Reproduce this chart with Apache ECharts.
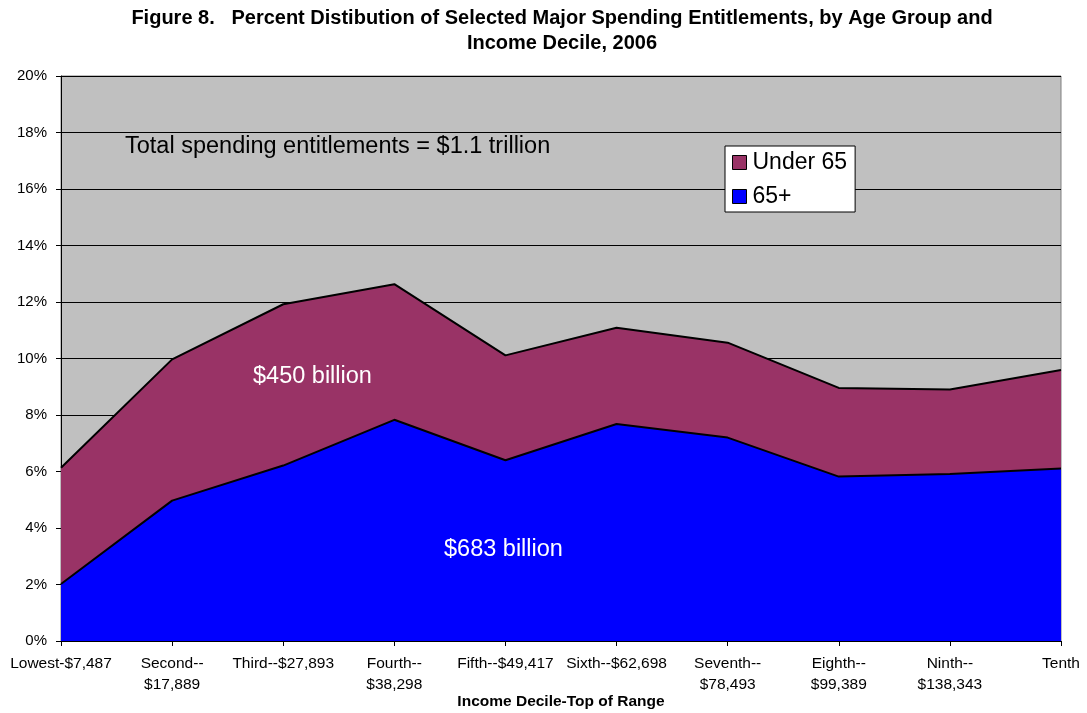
<!DOCTYPE html>
<html>
<head>
<meta charset="utf-8">
<script src="https://cdn.jsdelivr.net/npm/echarts@6/dist/echarts.min.js"></script>
<style>
  html, body { margin: 0; padding: 0; background: #fff; }
  #chart { width: 1087px; height: 713px; }
</style>
</head>
<body>
<div id="chart"></div>
<script>
// Income deciles (top of range)
const categories = [
  'Lowest-$7,487', 'Second--\n$17,889', 'Third--$27,893', 'Fourth--\n$38,298',
  'Fifth--$49,417', 'Sixth--$62,698', 'Seventh--\n$78,493', 'Eighth--\n$99,389',
  'Ninth--\n$138,343', 'Tenth'
];
// Percent of total entitlement spending, by age group
const age65plus = [2.02, 4.97, 6.21, 7.83, 6.40, 7.68, 7.20, 5.82, 5.91, 6.11];
const under65   = [4.11, 5.00, 5.71, 4.80, 3.71, 3.41, 3.36, 3.14, 2.99, 3.48];
const yTicks = [0, 2, 4, 6, 8, 10, 12, 14, 16, 18, 20];

const FONT = 'Liberation Sans, Arial, sans-serif';
const chart = echarts.init(document.getElementById('chart'));

chart.setOption({
  animation: false,
  title: {
    text: 'Figure 8.   Percent Distibution of Selected Major Spending Entitlements, by Age Group and\nIncome Decile, 2006',
    left: 557, top: 1, textAlign: 'center',
    textStyle: { fontFamily: FONT, fontSize: 20, fontWeight: 'bold', color: '#000', lineHeight: 25, align: 'center' }
  },
  grid: {
    left: 61, right: 26, top: 76, bottom: 72, outerBoundsMode: 'none',
    show: true, backgroundColor: '#C0C0C0', borderColor: '#808080', borderWidth: 1
  },
  legend: {
    left: 725, top: 146, orient: 'vertical',
    backgroundColor: '#fff', borderColor: '#000', borderWidth: 1,
    padding: [5, 8, 4, 7], itemGap: 11, itemWidth: 14, itemHeight: 14,
    textStyle: { fontFamily: FONT, fontSize: 23, color: '#000', padding: [0, 0, 0, 1] },
    data: [
      { name: 'Under 65', icon: 'rect', itemStyle: { color: '#993366', borderColor: '#000', borderWidth: 1 } },
      { name: '65+', icon: 'rect', itemStyle: { color: '#0000FF', borderColor: '#000', borderWidth: 1 } }
    ]
  },
  xAxis: {
    type: 'category', data: categories, boundaryGap: false,
    name: 'Income Decile-Top of Range', nameLocation: 'middle', nameGap: 53, nameMoveOverlap: false,
    nameTextStyle: { fontFamily: FONT, fontSize: 15.5, fontWeight: 'bold', color: '#000' },
    axisLine: { lineStyle: { color: '#000', width: 1 } },
    axisTick: { alignWithLabel: true, length: 5, lineStyle: { color: '#000' } },
    axisLabel: { fontFamily: FONT, fontSize: 15.5, color: '#000', margin: 12, lineHeight: 21, interval: 0 },
    splitLine: { show: false }
  },
  yAxis: {
    type: 'value', min: 0, max: 20, interval: 2,
    axisLine: { show: true, lineStyle: { color: '#000', width: 1 } },
    axisTick: { show: true, length: 5, lineStyle: { color: '#000' } },
    axisLabel: { fontFamily: FONT, fontSize: 15, color: '#000', margin: 14,
      formatter: v => yTicks.includes(v) ? v + '%' : '' },
    splitLine: { show: true, lineStyle: { color: '#000', width: 1 } }
  },
  series: [
    {
      name: '65+', type: 'line', stack: 'total', data: age65plus,
      symbol: 'none', z: 3,
      lineStyle: { color: '#000', width: 2 },
      itemStyle: { color: '#0000FF' },
      areaStyle: { color: '#0000FF', opacity: 1 }
    },
    {
      name: 'Under 65', type: 'line', stack: 'total', data: under65,
      symbol: 'none', z: 2,
      lineStyle: { color: '#000', width: 2 },
      itemStyle: { color: '#993366' },
      areaStyle: { color: '#993366', opacity: 1 }
    }
  ],
  graphic: [
    { type: 'text', left: 125, top: 135, z: 100,
      style: { text: 'Total spending entitlements = $1.1 trillion', fontFamily: FONT, fontSize: 23.5, fill: '#000' } },
    { type: 'text', left: 253, top: 365, z: 100,
      style: { text: '$450 billion', fontFamily: FONT, fontSize: 23.5, fill: '#fff' } },
    { type: 'text', left: 444, top: 538, z: 100,
      style: { text: '$683 billion', fontFamily: FONT, fontSize: 23.5, fill: '#fff' } }
  ]
});
</script>
</body>
</html>
